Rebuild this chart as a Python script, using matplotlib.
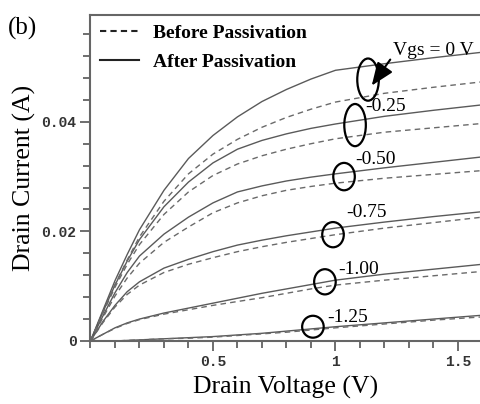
import numpy as np
from matplotlib import pyplot as plt
from matplotlib.patches import Ellipse
from matplotlib.ticker import MultipleLocator, FixedLocator

# drain voltage grid (V)
vd = [0, 0.05, 0.1, 0.15, 0.2, 0.3, 0.4, 0.5, 0.6, 0.7, 0.8, 0.9, 1.0, 1.2, 1.4, 1.6]

# drain current (A), after passivation (solid)
after_0 = [0, 0.0055, 0.0110, 0.0158, 0.0203, 0.0275, 0.0333, 0.0375, 0.0409, 0.0437, 0.0459, 0.0478, 0.0494, 0.0506, 0.0517, 0.0527]
after_025 = [0, 0.0052, 0.0102, 0.0146, 0.0185, 0.0245, 0.0290, 0.0325, 0.0350, 0.0366, 0.0378, 0.0388, 0.0396, 0.0410, 0.0421, 0.0431]
after_050 = [0, 0.0045, 0.0088, 0.0125, 0.0155, 0.0195, 0.0226, 0.0252, 0.0272, 0.0283, 0.0292, 0.0299, 0.0305, 0.0316, 0.0326, 0.0336]
after_075 = [0, 0.0035, 0.0065, 0.0090, 0.0108, 0.0133, 0.0149, 0.0163, 0.0175, 0.0184, 0.0192, 0.0199, 0.0206, 0.0217, 0.0227, 0.0236]
after_100 = [0, 0.0012, 0.0024, 0.0033, 0.0040, 0.0051, 0.0060, 0.0069, 0.0078, 0.0087, 0.0095, 0.0103, 0.0111, 0.0122, 0.0131, 0.0140]
after_125 = [0, 0, 0, 0.0001, 0.0002, 0.0004, 0.0006, 0.0008, 0.0011, 0.0014, 0.0018, 0.0022, 0.0026, 0.0033, 0.0040, 0.0047]

# drain current (A), before passivation (dashed)
before_0 = [0, 0.0052, 0.0103, 0.0148, 0.0190, 0.0255, 0.0305, 0.0341, 0.0368, 0.0390, 0.0408, 0.0423, 0.0436, 0.0452, 0.0463, 0.0473]
before_025 = [0, 0.0050, 0.0098, 0.0140, 0.0176, 0.0231, 0.0272, 0.0302, 0.0323, 0.0338, 0.0350, 0.0360, 0.0369, 0.0381, 0.0389, 0.0397]
before_050 = [0, 0.0042, 0.0082, 0.0115, 0.0142, 0.0180, 0.0208, 0.0234, 0.0252, 0.0265, 0.0275, 0.0282, 0.0288, 0.0297, 0.0304, 0.0311]
before_075 = [0, 0.0033, 0.0062, 0.0085, 0.0102, 0.0125, 0.0140, 0.0152, 0.0163, 0.0172, 0.0180, 0.0187, 0.0194, 0.0206, 0.0216, 0.0226]
before_100 = [0, 0.0012, 0.0023, 0.0032, 0.0039, 0.0049, 0.0057, 0.0065, 0.0072, 0.0079, 0.0087, 0.0095, 0.0102, 0.0111, 0.0119, 0.0127]
before_125 = [0, 0, 0, 0.0001, 0.0002, 0.0004, 0.0005, 0.0007, 0.0010, 0.0013, 0.0016, 0.0020, 0.0024, 0.0031, 0.0038, 0.0044]

after = [after_0, after_025, after_050, after_075, after_100, after_125]
before = [before_0, before_025, before_050, before_075, before_100, before_125]

# gate voltage labels and the circled spots (V, A)
gate_labels = ["-0.25", "-0.50", "-0.75", "-1.00", "-1.25"]
label_pos = [(1.12, 0.0428), (1.08, 0.0332), (1.045, 0.0234), (1.01, 0.0130), (0.965, 0.0042)]
circle_pos = [(1.133, 0.0477), (1.080, 0.0394), (1.035, 0.0300), (0.990, 0.0194), (0.957, 0.0108), (0.908, 0.0026)]
circle_h = [0.0077, 0.0077, 0.0050, 0.0046, 0.0046, 0.0040]

serif = "Liberation Serif"
mono = "Liberation Mono"


def main():
    fig = plt.figure(figsize=(4.8, 4.04), dpi=100)
    ax = fig.add_axes([0.1885, 0.156, 0.8115, 0.807])

    for ys in after:
        ax.plot(vd, ys, color="#5a5a5a", lw=1.0, ls="-")
    for ys in before:
        ax.plot(vd, ys, color="#6a6a6a", lw=1.0, ls=(0, (4, 3)))

    for (x, y), h in zip(circle_pos, circle_h):
        ax.add_patch(Ellipse((x, y), 0.088, h, fill=False, ec="black", lw=1.6, zorder=5))

    ax.annotate("Vgs = 0 V", xy=(1.148, 0.0466), xytext=(1.235, 0.0530),
                fontsize=14, family=serif, va="center", ha="left",
                arrowprops=dict(arrowstyle="-|>,head_width=0.4,head_length=1.0",
                                color="black", lw=1.5, shrinkA=0, shrinkB=0,
                                relpos=(0, 0.2)))
    for lab, (x, y) in zip(gate_labels, label_pos):
        ax.text(x, y, lab, fontsize=14, family=serif, va="center", ha="left")

    ax.set_xlim(0, 1.59)
    ax.set_ylim(0, 0.0595)
    ax.xaxis.set_major_locator(FixedLocator([0.5, 1.0, 1.5]))
    ax.xaxis.set_minor_locator(MultipleLocator(0.1))
    ax.yaxis.set_major_locator(FixedLocator([0, 0.02, 0.04]))
    ax.yaxis.set_minor_locator(MultipleLocator(0.004))
    ax.set_xticklabels(["0.5", "1", "1.5"])
    ax.set_yticklabels(["0", "0.02", "0.04"])
    for t in ax.get_xticklabels() + ax.get_yticklabels():
        t.set_family(mono)
        t.set_weight("bold")
        t.set_fontsize(10.5)
        t.set_color("#333333")
    ax.tick_params(which="major", length=7, width=1.2, color="#555555")
    ax.tick_params(axis="x", which="major", pad=3)
    ax.tick_params(axis="y", which="major", pad=3)
    ax.tick_params(which="minor", length=5, width=1.2, color="#555555")

    for side in ["left", "bottom", "top"]:
        ax.spines[side].set_color("#666666")
        ax.spines[side].set_linewidth(1.5)
    ax.spines["right"].set_visible(False)

    ax.set_xlabel("Drain Voltage (V)", fontsize=18.5, family=serif, labelpad=5)
    ax.set_ylabel("Drain Current (A)", fontsize=18.5, family=serif, labelpad=4)

    ax.plot([], [], color="#222222", lw=1.5, ls=(0, (3, 2)), label="Before Passivation")
    ax.plot([], [], color="#222222", lw=1.5, ls="-", label="After Passivation")
    handles, labels = ax.get_legend_handles_labels()
    ax.legend(handles[-2:], labels[-2:], loc="upper left", frameon=False,
              prop={"family": serif, "size": 14, "weight": "bold"},
              handlelength=2.0, handletextpad=0.7, borderaxespad=0.1,
              labelspacing=0.55, bbox_to_anchor=(0.0, 1.0))

    fig.text(0.017, 0.93, "(b)", fontsize=18, family=serif, va="center")

    plt.savefig("out.png", dpi=100)


if __name__ == "__main__":
    main()
